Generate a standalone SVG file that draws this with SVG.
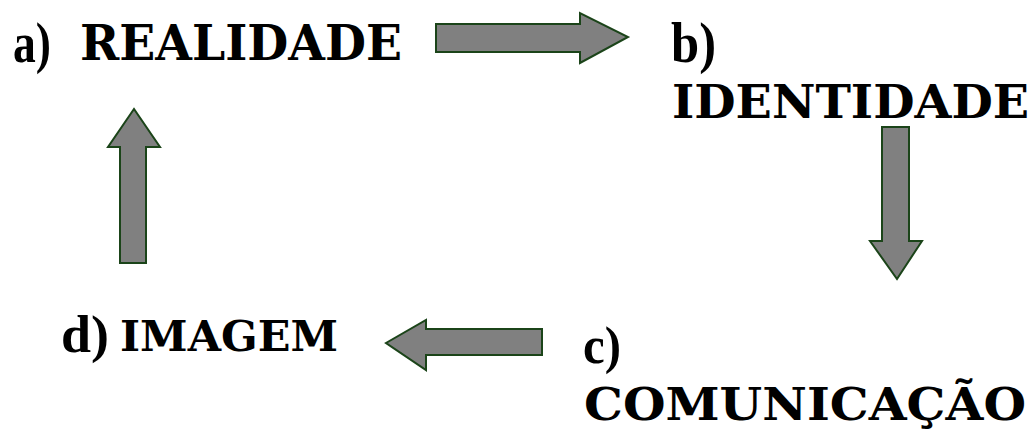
<svg xmlns="http://www.w3.org/2000/svg" width="1033" height="430" viewBox="0 0 1033 430">
  <style>
    .arrow { fill: #808080; stroke: #1b4419; stroke-width: 2; stroke-linejoin: miter; }
    .tag { font-family: "Liberation Serif", serif; font-weight: bold; fill: #000; }
    .word { font-family: "DejaVu Serif", "Liberation Serif", serif; font-weight: bold; fill: #000; }
  </style>
  <rect width="1033" height="430" fill="#fff"/>

  <!-- stages of the cycle -->
  <g id="node-a">
    <text class="tag" x="13" y="62" font-size="57" textLength="38" lengthAdjust="spacingAndGlyphs">a)</text>
    <text class="word" x="80" y="60" font-size="48" textLength="322" lengthAdjust="spacingAndGlyphs">REALIDADE</text>
  </g>
  <g id="node-b">
    <text class="tag" x="671" y="62" font-size="58" textLength="45" lengthAdjust="spacingAndGlyphs">b)</text>
    <text class="word" x="672" y="118" font-size="47" textLength="357" lengthAdjust="spacingAndGlyphs">IDENTIDADE</text>
  </g>
  <g id="node-c">
    <text class="tag" x="583" y="363" font-size="52" textLength="38" lengthAdjust="spacingAndGlyphs">c)</text>
    <text class="word" x="584" y="420" font-size="45" textLength="442" lengthAdjust="spacingAndGlyphs">COMUNICAÇÃO</text>
  </g>
  <g id="node-d">
    <text class="tag" x="61" y="352" font-size="52" textLength="48" lengthAdjust="spacingAndGlyphs">d)</text>
    <text class="word" x="120" y="351" font-size="43" textLength="218" lengthAdjust="spacingAndGlyphs">IMAGEM</text>
  </g>

  <!-- block arrows between stages -->
  <g id="connectors">
    <polygon class="arrow" points="436,24 580,24 580,13 628,37 580,63 580,52 436,52"/>
    <polygon class="arrow" points="882,127 909,127 909,241 922,241 897,279 870,241 882,241"/>
    <polygon class="arrow" points="542,329 426,329 426,320 386,343 426,370 426,355 542,355"/>
    <polygon class="arrow" points="120,263 120,147 108,147 134,109 160,147 146,147 146,263"/>
  </g>
</svg>
